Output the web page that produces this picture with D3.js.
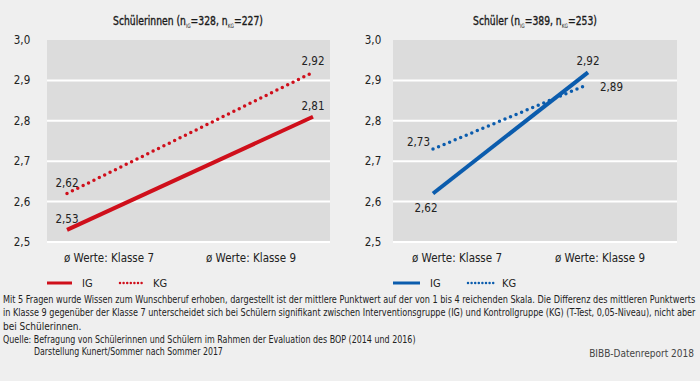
<!DOCTYPE html>
<html><head><meta charset="utf-8">
<script src="https://cdn.jsdelivr.net/npm/d3@7"></script>
<style>
body{margin:0;background:#efefef;}
svg{display:block;font-family:"Liberation Sans Narrow","DejaVu Sans Condensed",sans-serif;}
</style></head>
<body><svg id="c" width="700" height="381"></svg>
<script>
const categories = ["ø Werte: Klasse 7", "ø Werte: Klasse 9"];
const yTicks = [2.5, 2.6, 2.7, 2.8, 2.9, 3.0];
const girlsIG = [2.53, 2.81];
const girlsKG = [2.62, 2.92];
const boysIG = [2.62, 2.92];
const boysKG = [2.73, 2.89];
const seriesNames = ["IG", "KG"];
const footnote = [
  "Mit 5 Fragen wurde Wissen zum Wunschberuf erhoben, dargestellt ist der mittlere Punktwert auf der von 1 bis 4 reichenden Skala. Die Differenz des mittleren Punktwerts",
  "in Klasse 9 gegenüber der Klasse 7 unterscheidet sich bei Schülern signifikant zwischen Interventionsgruppe (IG) und Kontrollgruppe (KG) (T-Test, 0,05-Niveau), nicht aber",
  "bei Schülerinnen."
];
const source = ["Quelle: Befragung von Schülerinnen und Schülern im Rahmen der Evaluation des BOP (2014 und 2016)",
                "Darstellung Kunert/Sommer nach Sommer 2017"];
const credit = "BIBB-Datenreport 2018";

const svg = d3.select("#c");
const fmt = v => d3.format(".2f")(v).replace(".", ",");
const fmtTick = v => d3.format(".1f")(v).replace(".", ",");

function fitWidth(sel, target, ax) {
  const w = sel.node().getComputedTextLength();
  if (w > 0) {
    const s = target / w;
    sel.attr("transform", `translate(${ax},0) scale(${s},1) translate(${-ax},0)`);
  }
}

const panels = [
  {title:"Schülerinnen", nIG:328, nKG:227, ig:girlsIG, kg:girlsKG, color:"#cf0f1b",
   x0:47, x1:330, pts:[67,313], lbl:[109,251], ylab:22, tx:188, tw:150,
   labels:[{dx:0,dy:-11,a:"middle"},{dx:0,dy:-11,a:"middle"}], labelsKG:[{dx:0,dy:-11,a:"middle"},{dx:0,dy:-11,a:"middle"}],
   leg:{l1:47,l2:72,t1:82,d1:120,d2:145,t2:153}},
  {title:"Schüler", nIG:389, nKG:253, ig:boysIG, kg:boysKG, color:"#0b5cad",
   x0:393, x1:677, pts:[433,588], lbl:[457,600], ylab:373, tx:535, tw:124,
   labels:[{dx:-7,dy:14,a:"middle"},{dx:0,dy:-11,a:"middle"}], labelsKG:[{dx:-3,dy:-7,a:"end"},{dx:12,dy:3,a:"start"}],
   leg:{l1:393,l2:420,t1:430,d1:468,d2:495,t2:502}}
];

const y = d3.scaleLinear().domain([2.5, 3.0]).range([242, 40]);

panels.forEach(p => {
  const g = svg.append("g");
  g.append("rect").attr("x", p.x0).attr("y", y(3.0)).attr("width", p.x1 - p.x0)
    .attr("height", y(2.5) - y(3.0)).attr("fill", "#dcdcdc");
  g.selectAll(".grid").data(yTicks.slice(0, -1)).join("line")
    .attr("x1", p.x0).attr("x2", p.x1).attr("y1", d => y(d)).attr("y2", d => y(d))
    .attr("stroke", "#ffffff").attr("stroke-width", 2);
  g.selectAll(".yl").data(yTicks).join("text")
    .attr("x", p.ylab).attr("y", d => y(d)).attr("dy", "0.35em")
    .attr("text-anchor", "middle").attr("font-size", 11.5).attr("fill", "#222")
    .text(fmtTick);
  const t = g.append("text").attr("x", p.tx).attr("y", 25)
    .attr("text-anchor", "middle").attr("font-size", 12.5).attr("fill", "#1a1a1a")
    .attr("stroke", "#1a1a1a").attr("stroke-width", 0.35);
  t.append("tspan").text(p.title + " (n");
  t.append("tspan").attr("font-size", 6).attr("dy", 3).attr("stroke-width", 0).text("IG");
  t.append("tspan").attr("dy", -3).text("=" + p.nIG + ", n");
  t.append("tspan").attr("font-size", 6).attr("dy", 3).attr("stroke-width", 0).text("KG");
  t.append("tspan").attr("dy", -3).text("=" + p.nKG + ")");
  fitWidth(t, p.tw, p.tx);
  const xl = d3.scalePoint().domain(categories).range(p.lbl);
  g.selectAll(".xl").data(categories).join("text")
    .attr("x", d => xl(d)).attr("y", 258).attr("dy", "0.35em")
    .attr("text-anchor", "middle").attr("font-size", 11.5).attr("fill", "#222").text(d => d);
  const xp = d3.scalePoint().domain(categories).range(p.pts);
  const line = d3.line().x((d, i) => xp(categories[i])).y(d => y(d));
  g.append("path").attr("d", line(p.kg)).attr("fill", "none").attr("stroke", p.color)
    .attr("stroke-width", 3.5).attr("stroke-dasharray", "0 6").attr("stroke-linecap", "round");
  g.append("path").attr("d", line(p.ig)).attr("fill", "none").attr("stroke", p.color)
    .attr("stroke-width", 4);
  const addLabels = (vals, cfg) => {
    g.selectAll(null).data(vals).join("text")
      .attr("x", (d, i) => xp(categories[i]) + cfg[i].dx)
      .attr("y", (d, i) => y(d) + cfg[i].dy).attr("dy", "0.35em")
      .attr("text-anchor", (d, i) => cfg[i].a).attr("font-size", 11.5).attr("fill", "#222")
      .text(fmt);
  };
  addLabels(p.ig, p.labels);
  addLabels(p.kg, p.labelsKG);
  const ly = 283;
  g.append("line").attr("x1", p.leg.l1).attr("x2", p.leg.l2).attr("y1", ly).attr("y2", ly)
    .attr("stroke", p.color).attr("stroke-width", 3);
  g.append("text").attr("x", p.leg.t1).attr("y", ly).attr("dy", "0.35em").attr("font-size", 11).attr("fill", "#222").text(seriesNames[0]);
  g.append("line").attr("x1", p.leg.d1).attr("x2", p.leg.d2).attr("y1", ly).attr("y2", ly)
    .attr("stroke", p.color).attr("stroke-width", 2.5).attr("stroke-dasharray", "0 3.6").attr("stroke-linecap", "round");
  g.append("text").attr("x", p.leg.t2).attr("y", ly).attr("dy", "0.35em").attr("font-size", 11).attr("fill", "#222").text(seriesNames[1]);
});

const fy = [300, 313, 326];
footnote.forEach((s, i) => {
  const t = svg.append("text").attr("x", 3).attr("y", fy[i]).attr("dy", "0.35em")
    .attr("font-size", 10).attr("fill", "#222").text(s);
  if (i < 2) fitWidth(t, 693, 3);
});
const q = svg.append("text").attr("x", 3).attr("y", 340).attr("dy", "0.35em").attr("font-size", 10).attr("fill", "#222").text(source[0]);
fitWidth(q, 413, 3);
const dsel = svg.append("text").attr("x", 34).attr("y", 352).attr("dy", "0.35em").attr("font-size", 10).attr("fill", "#222").text(source[1]);
fitWidth(dsel, 189, 34);
svg.append("text").attr("x", 694).attr("y", 353).attr("dy", "0.35em").attr("text-anchor", "end")
  .attr("font-size", 10).attr("fill", "#444").text(credit);
</script></body></html>
